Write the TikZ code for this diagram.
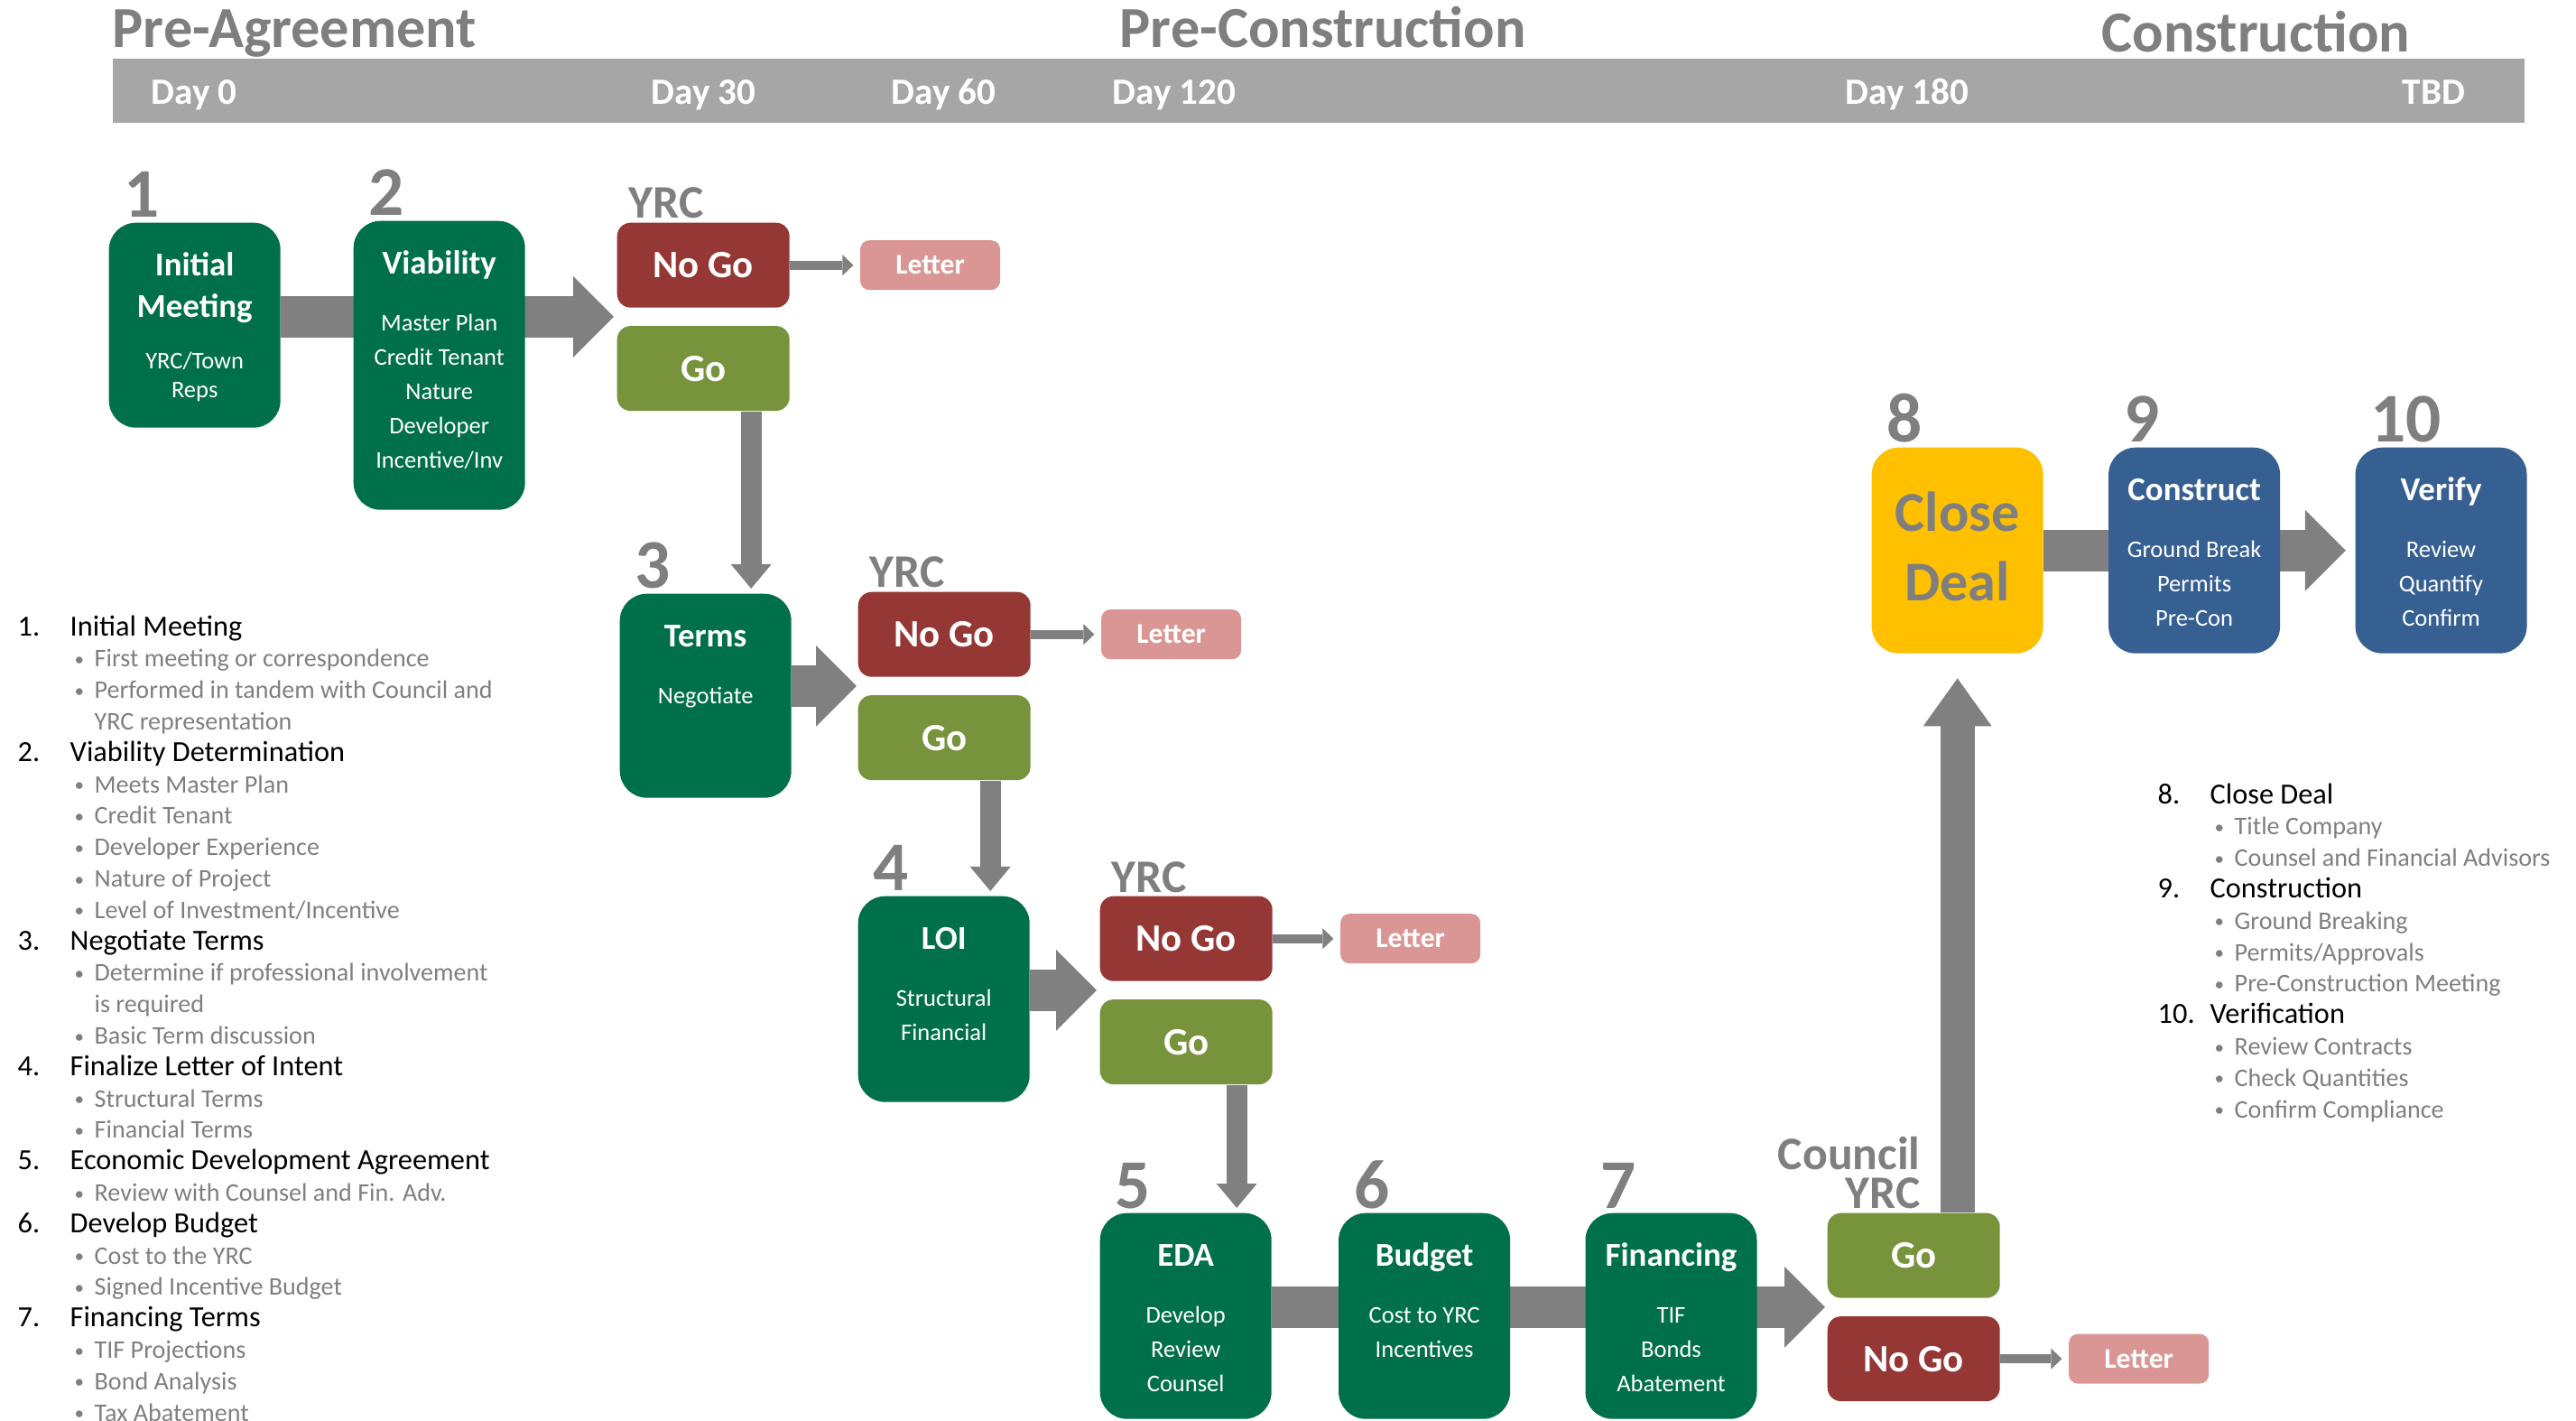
\documentclass[tikz,border=0pt]{standalone}
\usepackage{fontspec}
\setmainfont{Carlito}
\usepackage{tikz}
\usetikzlibrary{arrows.meta, positioning, calc, backgrounds}

\definecolor{stagegreen}{RGB}{0,112,74}
\definecolor{stageblue}{RGB}{55,96,146}
\definecolor{closeyellow}{RGB}{255,192,0}
\definecolor{nogored}{RGB}{149,55,53}
\definecolor{goolive}{RGB}{119,147,60}
\definecolor{letterpink}{RGB}{217,150,148}
\definecolor{arrowgray}{RGB}{128,128,128}
\definecolor{labelgray}{RGB}{127,127,127}
\definecolor{bargray}{RGB}{166,166,166}
\definecolor{notegray}{RGB}{127,127,127}

\tikzstyle{stage} = [rectangle, rounded corners=0.3cm, fill=stagegreen, text=white, inner sep=0pt]
\tikzstyle{nogobox} = [rectangle, rounded corners=0.15cm, fill=nogored, text=white,
	minimum width=1.91cm, minimum height=0.94cm, font=\fontsize{12.2}{14}\selectfont\bfseries]
\tikzstyle{gobox} = [nogobox, fill=goolive]
\tikzstyle{letterbox} = [rectangle, rounded corners=0.1cm, fill=letterpink, text=white,
	minimum width=1.55cm, minimum height=0.55cm, font=\fontsize{9}{11}\selectfont\bfseries]
\tikzstyle{stepnum} = [anchor=base west, inner sep=0pt, text=labelgray,
	font=\fontsize{22}{24}\selectfont\bfseries]
\tikzstyle{who} = [anchor=base west, inner sep=0pt, text=labelgray,
	font=\fontsize{14.7}{16}\selectfont\bfseries]
\tikzstyle{phasetitle} = [anchor=base west, inner sep=0pt, text=labelgray,
	font=\fontsize{18.3}{20}\selectfont\bfseries]
\tikzstyle{daylabel} = [anchor=base west, inner sep=0pt, text=white,
	font=\fontsize{11.7}{13}\selectfont\bfseries]
\tikzstyle{notelist} = [anchor=north west, inner sep=0pt, align=left,
	font=\fontsize{8}{9.9}\selectfont]
\tikzstyle{bigline} = [draw=arrowgray, line width=0.46cm,
	-{Triangle[width=0.9cm, length=0.45cm, line width=0pt]}]
\tikzstyle{downline} = [draw=arrowgray, line width=0.23cm,
	-{Triangle[width=0.45cm, length=0.27cm, line width=0pt]}]
\tikzstyle{upline} = [draw=arrowgray, line width=0.38cm,
	-{Triangle[width=0.76cm, length=0.53cm, line width=0pt]}]
\tikzstyle{smallline} = [draw=arrowgray, line width=0.1cm,
	-{Triangle[width=0.23cm, length=0.12cm, line width=0pt]}]

% box text: [line skip]{box height}{title}{lines}
\newcommand{\stagetext}[4][0.38cm]{%
	\parbox[c][#2][t]{1.9cm}{\centering\parskip=0pt
		{\fontsize{10.5}{0.46cm}\selectfont\bfseries\rule{0pt}{0.59cm}#3\par}
		\vspace{0.25cm}
		{\fontsize{7.55}{#1}\selectfont #4\par}}}
\newcommand{\notehead}[2]{{\fontsize{9.2}{9.9}\selectfont\makebox[0.58cm][l]{#1}#2}}
\newcommand{\notebullet}[1]{{\color{notegray}\hspace*{0.63cm}%
	\makebox[0.22cm][l]{\raisebox{0.4pt}{\fontsize{6}{6}\selectfont\textbullet}}#1}}
\newcommand{\notemore}[1]{{\color{notegray}\hspace*{0.85cm}#1}}

\begin{document}
\begin{tikzpicture}
		\useasboundingbox (0,0) rectangle (28.54,-15.74);

		% timeline
		\node[fill=bargray, anchor=north west, inner sep=0pt, minimum width=26.72cm,
			minimum height=0.71cm] (timeline) at (1.24,-0.645) {};
		\node[phasetitle] (preagree) at (1.24,-0.53) {Pre-Agreement};
		\node[phasetitle] (precons) at (12.40,-0.53) {Pre-Construction};
		\node[phasetitle] (cons) at (23.28,-0.58) {Construction};
		\foreach \x/\txt [count=\i] in {1.67/Day 0, 7.21/Day 30, 9.87/Day 60,
			12.32/Day 120, 20.44/Day 180, 26.61/TBD}
			\node[daylabel] (day\i) at (\x,-1.16) {\txt};

		% stages
		\node[stage, anchor=north west] (init) at (1.20,-2.46)
			{\stagetext[0.32cm]{2.27cm}{Initial\\Meeting}{YRC/Town\\Reps}};
		\node[stage, anchor=north west] (viab) at (3.91,-2.44)
			{\stagetext{3.2cm}{Viability}{Master Plan\\Credit Tenant\\Nature\\Developer\\Incentive/Inv}};
		\node[stage, anchor=north west] (terms) at (6.86,-6.57)
			{\stagetext{2.26cm}{Terms}{Negotiate}};
		\node[stage, anchor=north west] (loi) at (9.50,-9.92)
			{\stagetext{2.28cm}{LOI}{Structural\\Financial}};
		\node[stage, anchor=north west] (eda) at (12.18,-13.43)
			{\stagetext{2.28cm}{EDA}{Develop\\Review\\Counsel}};
		\node[stage, right=0.73cm of eda] (budget)
			{\stagetext{2.28cm}{Budget}{Cost to YRC\\Incentives}};
		\node[stage, right=0.82cm of budget] (financing)
			{\stagetext{2.28cm}{Financing}{TIF\\Bonds\\Abatement}};
		\node[stage, fill=closeyellow, text=labelgray, anchor=north west] (close) at (20.73,-4.95)
			{\parbox[c][2.28cm][t]{1.9cm}{\centering\fontsize{17.7}{0.77cm}\selectfont\bfseries
				\rule{0pt}{0.93cm}Close\\Deal}};
		\node[stage, fill=stageblue, right=0.71cm of close] (construct)
			{\stagetext{2.28cm}{Construct}{Ground Break\\Permits\\Pre-Con}};
		\node[stage, fill=stageblue, right=0.82cm of construct] (verify)
			{\stagetext{2.28cm}{Verify}{Review\\Quantify\\Confirm}};

		\foreach \stg/\idx in {init/1, viab/2, terms/3, loi/4, eda/5, budget/6,
			financing/7, close/8, construct/9, verify/10}
			\node[stepnum] (num\idx) at ([xshift=0.17cm, yshift=0.05cm]\stg.north west) {\idx};

		% decisions
		\node[nogobox, anchor=north west] (nogo1) at (6.83,-2.46) {No Go};
		\node[gobox, below=0.19cm of nogo1] (go1) {Go};
		\node[letterbox, right=0.77cm of nogo1] (letter1) {Letter};

		\node[nogobox, anchor=north west] (nogo2) at (9.50,-6.55) {No Go};
		\node[gobox, below=0.19cm of nogo2] (go2) {Go};
		\node[letterbox, right=0.77cm of nogo2] (letter2) {Letter};

		\node[nogobox, anchor=north west] (nogo3) at (12.18,-9.92) {No Go};
		\node[gobox, below=0.19cm of nogo3] (go3) {Go};
		\node[letterbox, right=0.74cm of nogo3] (letter3) {Letter};

		\node[gobox, anchor=north west] (go4) at (20.24,-13.43) {Go};
		\node[nogobox, below=0.19cm of go4] (nogo4) {No Go};
		\node[letterbox, right=0.75cm of nogo4] (letter4) {Letter};

		\foreach \d in {1,2,3}
			\node[who] (yrc\d) at ([xshift=0.13cm, yshift=0.04cm]nogo\d.north west) {YRC};
		\node[who, anchor=base east] (council) at ([xshift=0.08cm, yshift=0.48cm]go4.north) {Council};
		\node[who, anchor=base east] (yrc4) at ([xshift=0.08cm, yshift=0.05cm]go4.north) {YRC};

		\coordinate (gap1) at ($(nogo1.south west)!0.5!(go1.north west)+(-0.03,0)$);
		\coordinate (gap2) at ($(nogo2.south west)!0.5!(go2.north west)+(-0.01,0)$);
		\coordinate (gap3) at ($(nogo3.south west)!0.5!(go3.north west)+(-0.03,0)$);
		\coordinate (gap4) at ($(go4.south west)!0.5!(nogo4.north west)+(-0.02,0)$);

		% notes
		\node[notelist] (leftnotes) at (0.19,-6.81) {%
			\notehead{1.}{Initial Meeting}\\
			\notebullet{First meeting or correspondence}\\
			\notebullet{Performed in tandem with Council and}\\
			\notemore{YRC representation}\\
			\notehead{2.}{Viability Determination}\\
			\notebullet{Meets Master Plan}\\
			\notebullet{Credit Tenant}\\
			\notebullet{Developer Experience}\\
			\notebullet{Nature of Project}\\
			\notebullet{Level of Investment/Incentive}\\
			\notehead{3.}{Negotiate Terms}\\
			\notebullet{Determine if professional involvement}\\
			\notemore{is required}\\
			\notebullet{Basic Term discussion}\\
			\notehead{4.}{Finalize Letter of Intent}\\
			\notebullet{Structural Terms}\\
			\notebullet{Financial Terms}\\
			\notehead{5.}{Economic Development Agreement}\\
			\notebullet{Review with Counsel and Fin. Adv.}\\
			\notehead{6.}{Develop Budget}\\
			\notebullet{Cost to the YRC}\\
			\notebullet{Signed Incentive Budget}\\
			\notehead{7.}{Financing Terms}\\
			\notebullet{TIF Projections}\\
			\notebullet{Bond Analysis}\\
			\notebullet{Tax Abatement}};
		\node[notelist] (rightnotes) at (23.90,-8.67) {%
			\notehead{8.}{Close Deal}\\
			\notebullet{Title Company}\\
			\notebullet{Counsel and Financial Advisors}\\
			\notehead{9.}{Construction}\\
			\notebullet{Ground Breaking}\\
			\notebullet{Permits/Approvals}\\
			\notebullet{Pre-Construction Meeting}\\
			\notehead{10.}{Verification}\\
			\notebullet{Review Contracts}\\
			\notebullet{Check Quantities}\\
			\notebullet{Confirm Compliance}};

		% arrows
		\begin{scope}[on background layer]
			\path[bigline] (init.east |- gap1) -- (gap1);
			\path[bigline] (terms.east |- gap2) -- (gap2);
			\path[bigline] (loi.east |- gap3) -- (gap3);
			\path[bigline] (eda.east |- gap4) -- (gap4);
			\path[bigline, shorten >=0.1cm] (close.east) -- (close.east -| verify.west);
		\end{scope}
		\path[downline, shorten >=0.05cm] ([xshift=0.53cm]go1.south) -- ([xshift=0.53cm]go1.south |- terms.north);
		\path[downline, shorten >=0.05cm] ([xshift=0.51cm]go2.south) -- ([xshift=0.51cm]go2.south |- loi.north);
		\path[downline, shorten >=0.05cm] ([xshift=0.56cm]go3.south) -- ([xshift=0.56cm]go3.south |- eda.north);
		\path[upline, shorten >=0.27cm] (go4.north -| close.south) -- (close.south);
		\foreach \d in {1,2,3,4}
			\path[smallline, shorten >=0.07cm] (nogo\d.east) -- (nogo\d.east -| letter\d.west);
	\end{tikzpicture}
\end{document}
